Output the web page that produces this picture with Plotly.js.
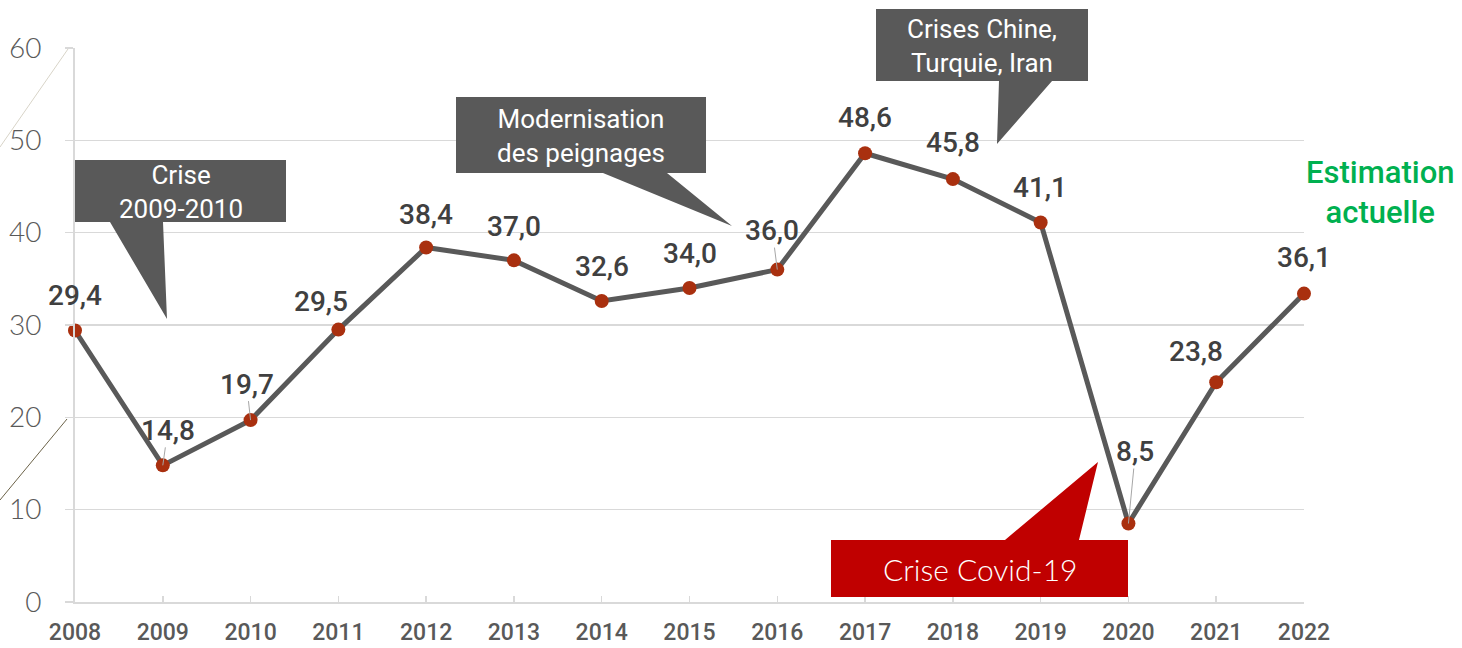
<!DOCTYPE html>
<html><head><meta charset="utf-8">
<script src="https://cdn.plot.ly/plotly-3.0.1.min.js"></script>
<style>html,body{margin:0;padding:0;background:#fff;overflow:hidden}</style>
</head><body><div id="chart" style="width:1462px;height:648px"></div>
<script>
// ---- data ----
const years = [2008, 2009, 2010, 2011, 2012, 2013, 2014, 2015, 2016, 2017, 2018, 2019, 2020, 2021, 2022];
const yearLabels = ["2008","2009","2010","2011","2012","2013","2014","2015","2016","2017","2018","2019","2020","2021","2022"];
const values = [29.4, 14.8, 19.7, 29.5, 38.4, 37.0, 32.6, 34.0, 36.0, 48.6, 45.8, 41.1, 8.5, 23.8, 33.4];
const valueLabels = ["29,4","14,8","19,7","29,5","38,4","37,0","32,6","34,0","36,0","48,6","45,8","41,1","8,5","23,8","36,1"];
const yTicks = [0, 10, 20, 30, 40, 50, 60];
const calloutCrise = "Crise<br>2009-2010";
const calloutModern = "Modernisation<br>des peignages";
const calloutChine = "Crises Chine,<br>Turquie, Iran";
const calloutCovid = "Crise Covid-19";
const estimationText = "Estimation<br>actuelle";

// ---- layout helpers (pixel -> paper) ----
const PL = 75, PR = 1304, PT = 48, PB = 602;
const px = x => (x - PL) / (PR - PL);
const py = y => (PB - y) / (PB - PT);
function poly(pts) {
  return pts.map((p, i) => (i ? 'L' : 'M') + px(p[0]).toFixed(5) + ',' + py(p[1]).toFixed(5)).join(' ') + ' Z';
}

// label offsets (pixels) and leader-line flags
const labelOffsets = [[0,-35],[5,-35],[-4,-36],[-17,-28],[0,-33],[0,-34],[0,-34],[0,-35],[-5,-39],[0,-36],[0,-37],[-1,-35],[7,-72],[-20,-31],[0,-36]];
const leaderIdx = [1, 2, 8, 12];

const labelFont = {family: 'Roboto, sans-serif', size: 28, color: '#404040', weight: 500};
const annotations = years.map((yr, i) => ({
  x: yr, y: values[i], xref: 'x', yref: 'y',
  text: valueLabels[i], font: labelFont,
  showarrow: true, arrowhead: 0, arrowwidth: 1,
  arrowcolor: leaderIdx.includes(i) ? '#a6a6a6' : 'rgba(0,0,0,0)',
  ax: labelOffsets[i][0], ay: labelOffsets[i][1], standoff: 0,
  borderpad: 0
}));

const calloutFont = {family: 'Roboto, sans-serif', size: 26, color: '#ffffff'};
function note(x, y, text, font) {
  return {xref: 'paper', yref: 'paper', x: px(x), y: py(y), text: text, showarrow: false,
          xanchor: 'center', yanchor: 'middle', align: 'center', font: font};
}
annotations.push(
  note(181, 192, calloutCrise, calloutFont),
  note(581, 136, calloutModern, calloutFont),
  note(982, 46, calloutChine, calloutFont),
  note(980, 569, calloutCovid, {family: 'Lato, sans-serif', size: 30, color: '#ffffff', weight: 300}),
  note(1380, 192, estimationText, {family: 'Roboto, sans-serif', size: 31, color: '#00B050', weight: 500})
);

const shapes = [
  {type: 'path', xref: 'paper', yref: 'paper', layer: 'above', fillcolor: '#595959', line: {width: 0},
   path: poly([[75,160],[286,160],[286,222],[163,222],[167,319],[110,222],[75,222]])},
  {type: 'path', xref: 'paper', yref: 'paper', layer: 'above', fillcolor: '#595959', line: {width: 0},
   path: poly([[456,97],[706,97],[706,173],[667,173],[732,226],[603,173],[456,173]])},
  {type: 'path', xref: 'paper', yref: 'paper', layer: 'above', fillcolor: '#595959', line: {width: 0},
   path: poly([[876,9],[1088,9],[1088,81],[1052,81],[997,144],[999,81],[876,81]])},
  {type: 'path', xref: 'paper', yref: 'paper', layer: 'above', fillcolor: '#C00000', line: {width: 0},
   path: poly([[831,540],[1005,540],[1098,462],[1079,540],[1128,540],[1128,597],[831,597]])},
  // faint stray lines at the far left
  {type: 'line', xref: 'paper', yref: 'paper', x0: px(68), y0: py(49), x1: px(0), y1: py(147),
   line: {color: '#d8d4c8', width: 1}},
  {type: 'line', xref: 'paper', yref: 'paper', x0: px(67), y0: py(419), x1: px(0), y1: py(500),
   line: {color: '#6b6248', width: 1}}
];

const trace = {
  x: years, y: values, type: 'scatter', mode: 'lines+markers',
  line: {color: '#595959', width: 5},
  marker: {color: '#A9300F', size: 14},
  cliponaxis: false, hoverinfo: 'skip'
};

const layout = {
  width: 1462, height: 648,
  margin: {l: PL, r: 1462 - PR, t: PT, b: 648 - PB, pad: 0},
  paper_bgcolor: '#ffffff', plot_bgcolor: '#ffffff',
  showlegend: false,
  xaxis: {
    type: 'linear', range: [2008, 2022], tickvals: years, ticktext: yearLabels,
    showgrid: false, zeroline: false,
    showline: true, linecolor: '#d9d9d9', linewidth: 2,
    ticks: 'inside', ticklen: 6, tickwidth: 1.5, tickcolor: '#d9d9d9',
    ticklabelstandoff: 8,
    tickfont: {family: 'Roboto, sans-serif', size: 23, color: '#595959', weight: 500}
  },
  yaxis: {
    range: [0, 60], tickvals: yTicks, ticktext: yTicks.map(String),
    showgrid: true, gridcolor: '#d9d9d9', gridwidth: 1.5, zeroline: false,
    showline: true, linecolor: '#d9d9d9', linewidth: 2,
    ticks: 'outside', ticklen: 8, tickwidth: 1.5, tickcolor: '#d9d9d9',
    ticklabelstandoff: 18,
    tickfont: {family: 'Lato, sans-serif', size: 28, color: '#595959', weight: 300}
  },
  shapes: shapes,
  annotations: annotations
};

Plotly.newPlot('chart', [trace], layout, {displayModeBar: false, staticPlot: true});
</script>
</body></html>
